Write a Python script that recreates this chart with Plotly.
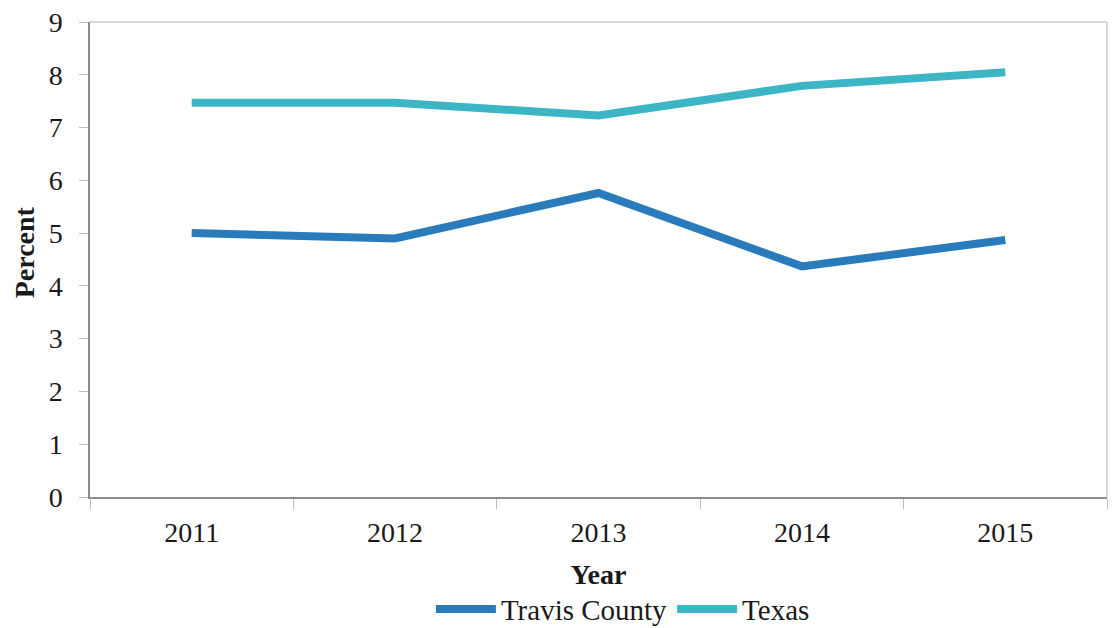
import plotly.graph_objects as go

years = ["2011", "2012", "2013", "2014", "2015"]
travis = [5.0, 4.9, 5.76, 4.37, 4.87]
texas = [7.47, 7.47, 7.23, 7.79, 8.05]
y_ticks = [0, 1, 2, 3, 4, 5, 6, 7, 8, 9]

FONT = "Liberation Serif, Times New Roman, serif"

fig = go.Figure()
fig.add_trace(go.Scatter(x=years, y=travis, mode="lines", name="Travis County",
                         line=dict(color="#2a7bbb", width=8)))
fig.add_trace(go.Scatter(x=years, y=texas, mode="lines", name="Texas",
                         line=dict(color="#3cb6c4", width=8)))

# the page body adds an 8px margin around the figure
fig.update_layout(
    width=1100, height=628,
    margin=dict(l=82, r=1, t=14, b=139),
    paper_bgcolor="white", plot_bgcolor="white",
    font=dict(family=FONT, size=28, color="#1a1a1a"),
    showlegend=True,
    legend=dict(orientation="h", x=0.524, xanchor="center", y=-0.236, yanchor="middle",
                font=dict(size=29), itemwidth=60, tracegroupgap=0),
    xaxis=dict(
        type="category", range=[-0.5, 4.5], automargin=False,
        tickson="boundaries", ticks="outside", ticklen=10, tickcolor="#bfbfbf",
        showline=True, linecolor="#8c8c8c", linewidth=1.5,
        showgrid=False, zeroline=False, ticklabeloverflow="allow",
        tickfont=dict(size=28), ticklabelstandoff=10,
        title=dict(text="<b>Year</b>", font=dict(size=28), standoff=17),
    ),
    yaxis=dict(
        range=[0, 9], tickvals=y_ticks, ticks="outside", ticklen=9, tickcolor="#bfbfbf",
        showline=True, linecolor="#8c8c8c", linewidth=1.5, automargin=False,
        showgrid=False, zeroline=False, ticklabeloverflow="allow",
        tickfont=dict(size=28), ticklabelstandoff=11,
    ),
    annotations=[dict(
        text="<b>Percent</b>", textangle=-90, showarrow=False,
        xref="paper", yref="paper", x=-0.0645, y=0.516,
        xanchor="center", yanchor="middle", font=dict(size=28),
    )],
)

# light frame on top and right
fig.add_shape(type="line", xref="paper", yref="paper", x0=0, x1=1, y0=1, y1=1,
              line=dict(color="#c8c8c8", width=1.5))
fig.add_shape(type="line", xref="paper", yref="paper", x0=1, x1=1, y0=0, y1=1,
              line=dict(color="#c8c8c8", width=1.5))

fig.write_html("out.html")
